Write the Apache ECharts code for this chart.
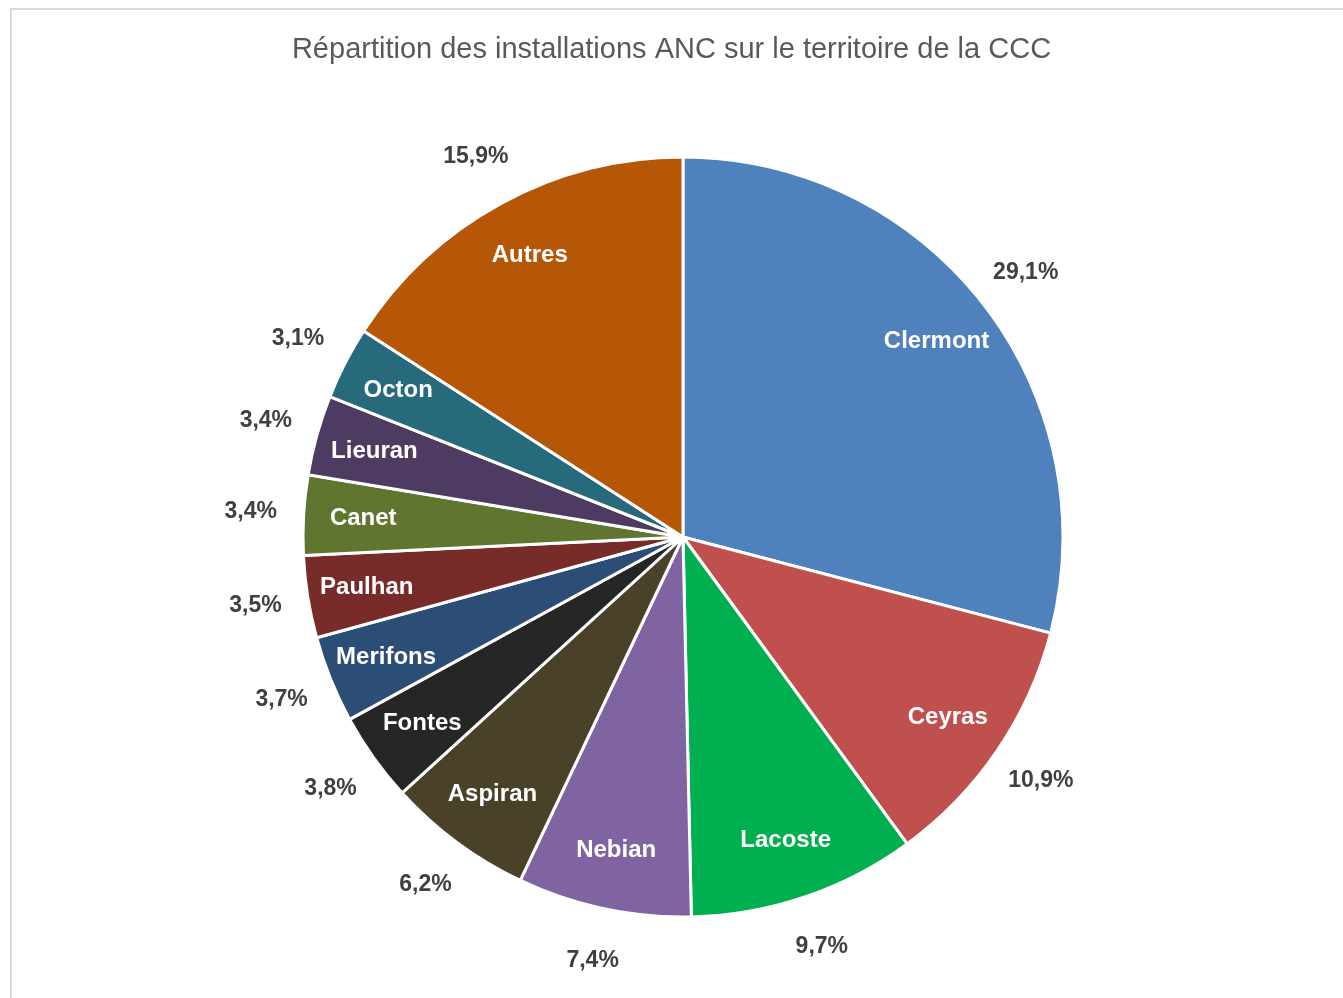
<!DOCTYPE html>
<html>
<head>
<meta charset="utf-8">
<script src="https://cdn.jsdelivr.net/npm/echarts@6/dist/echarts.min.js"></script>
<style>
html,body{margin:0;padding:0;background:#fff;}
#chart{width:1343px;height:998px;}
</style>
</head>
<body>
<div id="chart"></div>
<script>
const categories = ['Clermont','Ceyras','Lacoste','Nebian','Aspiran','Fontes','Merifons','Paulhan','Canet','Lieuran','Octon','Autres'];
const values = [29.1,10.9,9.7,7.4,6.2,3.8,3.7,3.5,3.4,3.4,3.1,15.9];
const colors = ['#4F81BD','#C0504D','#00B050','#8064A2','#4A4228','#262626','#2C4D75','#772C2A','#5F7530','#4D3B62','#276A7C','#B65708'];
const titleText = 'Répartition des installations ANC sur le territoire de la CCC';

const data = categories.map((c,i)=>({name:c,value:values[i]}));
const fmtPct = v => v.toFixed(1).replace('.',',') + '%';
const center = [683,537];
const R = 380;
const chart = echarts.init(document.getElementById('chart'));
chart.setOption({
  animation:false,
  backgroundColor:'#fff',
  color: colors,
  title:{text:titleText,left:'center',top:30,textStyle:{fontFamily:'Liberation Sans, Arial',fontSize:29,fontWeight:'normal',color:'#595959'}},
  graphic:[{type:'rect',shape:{x:11,y:9,width:1400,height:1100},style:{fill:'none',stroke:'#d9d9d9',lineWidth:2},silent:true}],
  series:[
    {type:'pie',center:center,radius:[0,R],startAngle:90,clockwise:true,silent:true,
     data:data,label:{show:false},labelLine:{show:false},
     itemStyle:{borderColor:'#fff',borderWidth:3}},
    {type:'pie',center:center,radius:[R*0.67,R],startAngle:90,clockwise:true,silent:true,
     data:data,itemStyle:{color:'transparent'},labelLine:{show:false},
     label:{show:true,position:'inside',formatter:p=>p.name,color:'#fff',fontFamily:'Liberation Sans, Arial',fontWeight:'bold',fontSize:24}},
    {type:'pie',center:center,radius:[R,R+100],startAngle:90,clockwise:true,silent:true,
     data:data,itemStyle:{color:'transparent'},labelLine:{show:false},
     label:{show:true,position:'inside',formatter:p=>fmtPct(p.value),color:'#404040',fontFamily:'Liberation Sans, Arial',fontWeight:'bold',fontSize:23}}
  ]
});
</script>
</body>
</html>
